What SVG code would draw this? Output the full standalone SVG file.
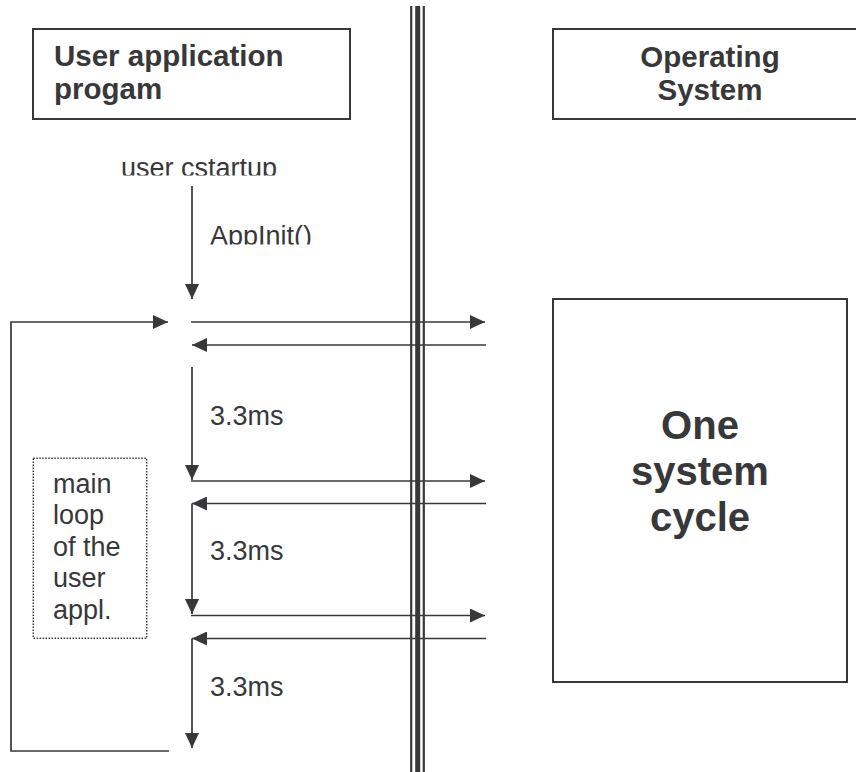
<svg xmlns="http://www.w3.org/2000/svg" width="856" height="772" viewBox="0 0 856 772">
<style>
.box{fill:#fff;stroke:#38383a;stroke-width:2}
.note{fill:none;stroke:#38383a;stroke-width:1.5;stroke-dasharray:1.5 1.5}
.ln{fill:none;stroke:#38383a;stroke-width:1.7}
.bar{stroke:#38383a}
.t{font-family:"Liberation Sans",Arial,sans-serif;font-size:27px;fill:#38383a}
.h{font-family:"Liberation Sans",Arial,sans-serif;font-size:29.5px;font-weight:bold;fill:#38383a}
.big{font-family:"Liberation Sans",Arial,sans-serif;font-size:40px;font-weight:bold;fill:#38383a}
</style>
<defs>
<marker id="arr" markerUnits="userSpaceOnUse" markerWidth="15" markerHeight="14" refX="15" refY="7" orient="auto">
<path d="M0,0 L15,7 L0,14 z" fill="#38383a"/>
</marker>
<clipPath id="c1"><rect x="0" y="140" width="400" height="35.5"/></clipPath>
<clipPath id="c2"><rect x="200" y="210" width="200" height="34.5"/></clipPath>
</defs>
<rect width="856" height="772" fill="#fff"/>

<g id="divider">
<line class="bar" x1="411.2" y1="6" x2="411.2" y2="772" stroke-width="2.2"/>
<line class="bar" x1="417.7" y1="6" x2="417.7" y2="772" stroke-width="5"/>
<line class="bar" x1="423.8" y1="6" x2="423.8" y2="772" stroke-width="2.2"/>
</g>

<g id="app-header">
<rect class="box" x="33" y="29" width="317" height="90"/>
<text class="h" x="54" y="66">User application</text>
<text class="h" x="54" y="99">progam</text>
</g>

<g id="os-header">
<rect class="box" x="553" y="29" width="320" height="90"/>
<text class="h" x="710" y="67" text-anchor="middle">Operating</text>
<text class="h" x="710" y="100" text-anchor="middle">System</text>
</g>

<g id="os-cycle">
<rect class="box" x="553" y="299" width="294" height="383"/>
<text class="big" x="700" y="439" text-anchor="middle">One</text>
<text class="big" x="700" y="485" text-anchor="middle">system</text>
<text class="big" x="700" y="531" text-anchor="middle">cycle</text>
</g>

<g id="main-loop-note">
<rect class="note" x="33.3" y="458.3" width="113.4" height="180"/>
<text class="t" x="53" y="493">main</text>
<text class="t" x="53" y="524">loop</text>
<text class="t" x="53" y="555.5">of the</text>
<text class="t" x="53" y="587">user</text>
<text class="t" x="53" y="618.5">appl.</text>
</g>

<g id="labels">
<text class="t" x="121" y="176.5" clip-path="url(#c1)">user cstartup</text>
<text class="t" x="210" y="245" clip-path="url(#c2)">AppInit()</text>
<text class="t" x="210" y="425">3.3ms</text>
<text class="t" x="210" y="560">3.3ms</text>
<text class="t" x="210" y="696">3.3ms</text>
</g>

<g id="connectors">
<line class="ln" x1="192" y1="186" x2="192" y2="299" marker-end="url(#arr)"/>
<polyline class="ln" points="169,751 11,751 11,322 168,322" marker-end="url(#arr)"/>
<line class="ln" x1="191" y1="322" x2="485" y2="322" marker-end="url(#arr)"/>
<line class="ln" x1="486" y1="345" x2="192" y2="345" marker-end="url(#arr)"/>
<line class="ln" x1="192" y1="367" x2="192" y2="480" marker-end="url(#arr)"/>
<line class="ln" x1="191" y1="481" x2="485" y2="481" marker-end="url(#arr)"/>
<line class="ln" x1="486" y1="503.5" x2="192" y2="503.5" marker-end="url(#arr)"/>
<line class="ln" x1="192" y1="503.5" x2="192" y2="614" marker-end="url(#arr)"/>
<line class="ln" x1="191" y1="615.5" x2="485" y2="615.5" marker-end="url(#arr)"/>
<line class="ln" x1="486" y1="638.5" x2="192" y2="638.5" marker-end="url(#arr)"/>
<line class="ln" x1="192" y1="638.5" x2="192" y2="748" marker-end="url(#arr)"/>
</g>
</svg>
